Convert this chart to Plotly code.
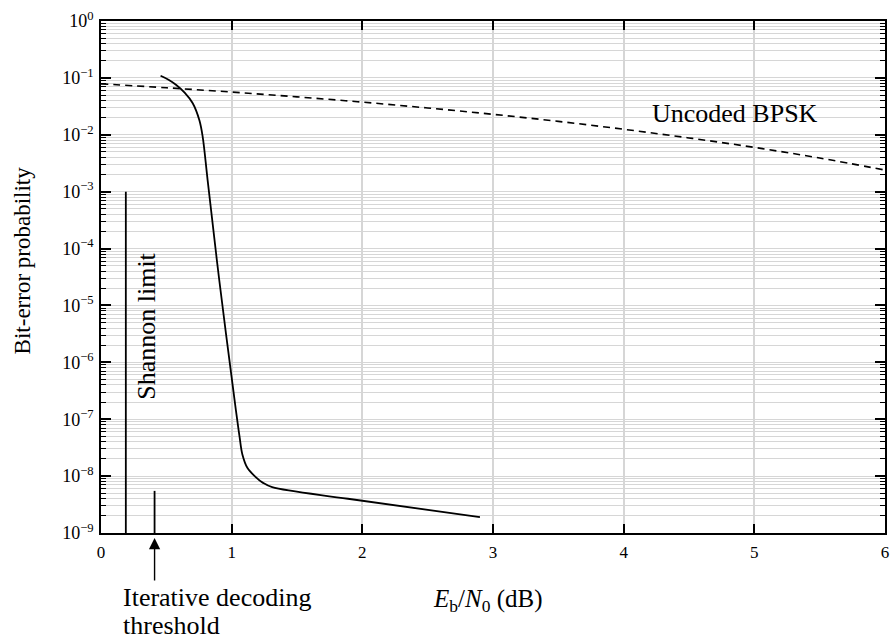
import plotly.graph_objects as go

# Uncoded BPSK (dashed) values
bpsk_x = [0, 0.5, 1, 1.5, 2, 2.5, 3, 3.5, 4, 4.5, 5, 5.5, 6]
bpsk_y = [0.0786, 0.0671, 0.0563, 0.0464, 0.0375, 0.0296, 0.0229,
          0.0172, 0.0125, 0.0088, 0.0060, 0.0039, 0.0024]

# Coded (turbo) curve
code_x = [0.456, 0.52, 0.576, 0.64, 0.702, 0.753, 0.778, 0.816, 0.905,
          1.032, 1.06, 1.082, 1.12, 1.18, 1.24, 1.31, 1.89, 2.90]
code_y = [0.109, 0.092, 0.075, 0.055, 0.0358, 0.018, 0.0093, 1.6e-3, 2.8e-5,
          1.46e-7, 5e-8, 2.4e-8, 1.4e-8, 9.8e-9, 7.6e-9, 6.4e-9, 4.0e-9, 1.9e-9]

# Reference markers
shannon_x = [0.19, 0.19]
shannon_y = [1e-9, 1e-3]
thresh_x = [0.41, 0.41]
thresh_y = [1e-9, 5.5e-9]

x_ticks = [0, 1, 2, 3, 4, 5, 6]
y_exps = [0, -1, -2, -3, -4, -5, -6, -7, -8, -9]
y_ticks = [10.0 ** e for e in y_exps]
y_ticktext = ["10<sup>%s</sup>" % (str(e).replace("-", "\u2212")) for e in y_exps]
y_minor = [m * 10.0 ** e for e in y_exps[1:] for m in range(2, 10)]

FONT = "Liberation Serif"
GRID = "#d6d6d6"

fig = go.Figure()
fig.add_trace(go.Scatter(x=bpsk_x, y=bpsk_y, mode="lines",
                         line=dict(color="black", width=1.6, dash="7px,5px"),
                         line_shape="spline", showlegend=False))
fig.add_trace(go.Scatter(x=code_x, y=code_y, mode="lines",
                         line=dict(color="black", width=1.8),
                         line_shape="spline", showlegend=False))
fig.add_trace(go.Scatter(x=shannon_x, y=shannon_y, mode="lines",
                         line=dict(color="black", width=1.8), showlegend=False))
fig.add_trace(go.Scatter(x=thresh_x, y=thresh_y, mode="lines",
                         line=dict(color="black", width=1.8), showlegend=False))

fig.update_layout(
    width=890, height=640,
    margin=dict(l=101, r=1, t=21, b=107),
    paper_bgcolor="white", plot_bgcolor="white",
    font=dict(family=FONT, color="black", size=17),
    xaxis=dict(range=[0, 6], tickvals=x_ticks, ticktext=[str(v) for v in x_ticks],
               ticks="inside", ticklen=9, tickwidth=1.5, tickcolor="black",
               showline=True, linecolor="black", linewidth=1.5, mirror="allticks",
               showgrid=True, gridcolor=GRID, gridwidth=1.5, zeroline=False,
               tickfont=dict(size=17), ticklabelstandoff=3,
               ticklabeloverflow="allow"),
    yaxis=dict(type="log", range=[-9, 0], tickvals=y_ticks, ticktext=y_ticktext,
               ticks="inside", ticklen=10, tickwidth=1.5, tickcolor="black",
               showline=True, linecolor="black", linewidth=1.5, mirror="allticks",
               showgrid=True, gridcolor=GRID, gridwidth=1, zeroline=False,
               tickfont=dict(size=18), ticklabelstandoff=2,
               minor=dict(tickvals=y_minor, ticks="inside", ticklen=5,
                          tickwidth=1.2, tickcolor="black",
                          showgrid=True, gridcolor=GRID, gridwidth=1)),
)

annotations = [
    dict(text="Bit-error probability", x=22, y=260, textangle=-90, size=23),
    dict(text="<i>E</i><sub>b</sub>/<i>N</i><sub>0</sub> (dB)", x=490, y=600, size=25),
    dict(text="Uncoded BPSK", x=738, y=113, size=26),
    dict(text="Shannon limit", x=146, y=326, textangle=-90, size=26),
]
for a in annotations:
    fig.add_annotation(text=a["text"], xref="paper", yref="paper",
                       x=(a["x"] - 101) / 788, y=1 - (a["y"] - 21) / 512,
                       xanchor="center", yanchor="middle", showarrow=False,
                       textangle=a.get("textangle", 0),
                       font=dict(family=FONT, size=a["size"], color="black"))

for line_text, yc in [("Iterative decoding", 597), ("threshold", 625)]:
    fig.add_annotation(text=line_text, xref="paper", yref="paper",
                       x=(121 - 101) / 788, y=1 - (yc - 21) / 512,
                       xanchor="left", yanchor="middle", align="left", showarrow=False,
                       font=dict(family=FONT, size=26, color="black"))
# arrow pointing up at the threshold
fig.add_annotation(text="", xref="x", yref="y domain", x=thresh_x[0],
                   y=1 - (538 - 21) / 512, ax=thresh_x[0], ay=1 - (582 - 21) / 512,
                   axref="x", ayref="y domain", showarrow=True, arrowhead=2,
                   arrowsize=1.6, arrowwidth=1.4, arrowcolor="black")

fig.write_html("out.html")
